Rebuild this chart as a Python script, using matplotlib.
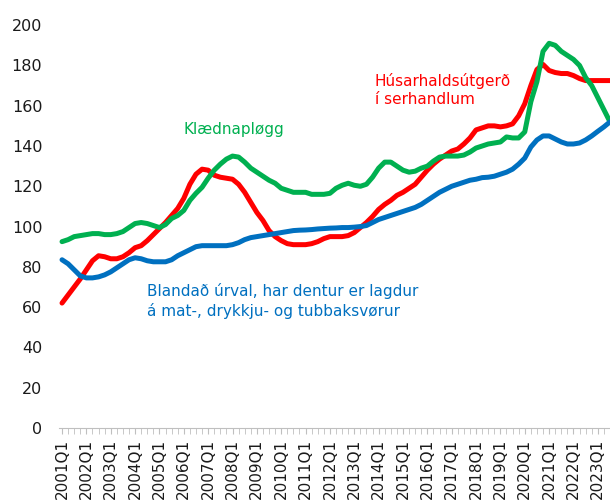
import matplotlib.pyplot as plt

quarters = [f"{y}Q{q}" for y in range(2001, 2024) for q in range(1, 5)][:91]

husarhald = [
    62, 66, 70, 74, 78.5, 83, 85.5, 85, 84, 84,
    85, 87, 89.5, 90.5, 93, 96, 99, 102, 105.5, 109,
    114, 121, 126, 128.5, 128, 125.5, 124.5, 124, 123.5, 121,
    117, 112, 107, 103, 98, 95, 93, 91.5, 91, 91,
    91, 91.5, 92.5, 94, 95, 95, 95, 95.5, 97, 99.5,
    102, 105, 108.5, 111, 113, 115.5, 117, 119, 121, 124.5,
    128, 131, 133.5, 135.5, 137.5, 138.5, 141, 144, 148, 149,
    150, 150, 149.5, 150, 151, 155, 161, 170, 178, 180.5,
    177.5, 176.5, 176, 176, 175, 173.5, 172.5, 172.5, 172.5, 172.5,
    172.5,
]

klaednad = [
    92.5, 93.5, 95, 95.5, 96, 96.5, 96.5, 96, 96, 96.5,
    97.5, 99.5, 101.5, 102, 101.5, 100.5, 99.5, 101, 104, 105.5,
    108, 113, 116.5, 119.5, 124, 128, 131, 133.5, 135, 134.5,
    132, 129, 127, 125, 123, 121.5, 119, 118, 117, 117,
    117, 116, 116, 116, 116.5, 119, 120.5, 121.5, 120.5, 120,
    121, 124.5, 129, 132, 132, 130, 128, 127, 127.5, 129,
    130, 132.5, 134.5, 135, 135, 135, 135.5, 137, 139, 140,
    141, 141.5, 142, 144.5, 144, 144, 147, 162, 172, 187,
    191, 190, 187, 185, 183, 180, 174, 170, 164, 158,
    152,
]

blandad = [
    83.5, 81.5, 78.5, 75.5, 74.5, 74.5, 75, 76, 77.5, 79.5,
    81.5, 83.5, 84.5, 84, 83, 82.5, 82.5, 82.5, 83.5, 85.5,
    87, 88.5, 90, 90.5, 90.5, 90.5, 90.5, 90.5, 91, 92,
    93.5, 94.5, 95, 95.5, 96, 96.5, 97, 97.5, 98, 98.2,
    98.3, 98.5, 98.8, 99, 99.2, 99.3, 99.5, 99.5, 99.7, 100,
    100.5, 102, 103.5, 104.5, 105.5, 106.5, 107.5, 108.5, 109.5, 111,
    113, 115, 117, 118.5, 120, 121, 122, 123, 123.5, 124.3,
    124.5, 125, 126, 127, 128.5, 131, 134, 139.5, 143, 145,
    145, 143.5, 142, 141, 141, 141.5, 143, 145, 147.3, 149.5,
    152,
]

red = "#ff0000"
green = "#00b050"
blue = "#0070c0"

fig = plt.figure(figsize=(6.1, 5.04), dpi=100)
ax = fig.add_axes([0.0967, 0.151, 0.9033, 0.799])

x = list(range(len(quarters)))
ax.plot(x, husarhald, color=red, linewidth=3.6, solid_capstyle="round")
ax.plot(x, klaednad, color=green, linewidth=3.6, solid_capstyle="round")
ax.plot(x, blandad, color=blue, linewidth=3.6, solid_capstyle="round")

ax.text(19.9, 148, "Klædnapløgg", color=green, fontsize=11, va="center")
ax.text(51.4, 168, "Húsarhaldsútgerð\ní serhandlum", color=red,
        fontsize=11, va="center", linespacing=1.25)
ax.text(14, 63, "Blandað úrval, har dentur er lagdur\ná mat-, drykkju- og tubbaksvørur",
        color=blue, fontsize=11, va="center", linespacing=1.25)

ax.set_xlim(-0.5, 90)
ax.set_ylim(0, 200)
ax.set_yticks(range(0, 201, 20))
ax.set_xticks(x[::4])
ax.set_xticklabels(quarters[::4], rotation=90)
ax.set_xticks(x, minor=True)

for side in ["left", "right", "top"]:
    ax.spines[side].set_visible(False)
ax.spines["bottom"].set_color("#bfbfbf")
ax.tick_params(axis="y", length=0, pad=12, labelsize=11.5, labelcolor="#1a1a1a")
ax.tick_params(axis="x", which="both", length=4, color="#bfbfbf",
               pad=4, labelsize=11, labelcolor="#1a1a1a")

fig.savefig("out.png", dpi=100)
